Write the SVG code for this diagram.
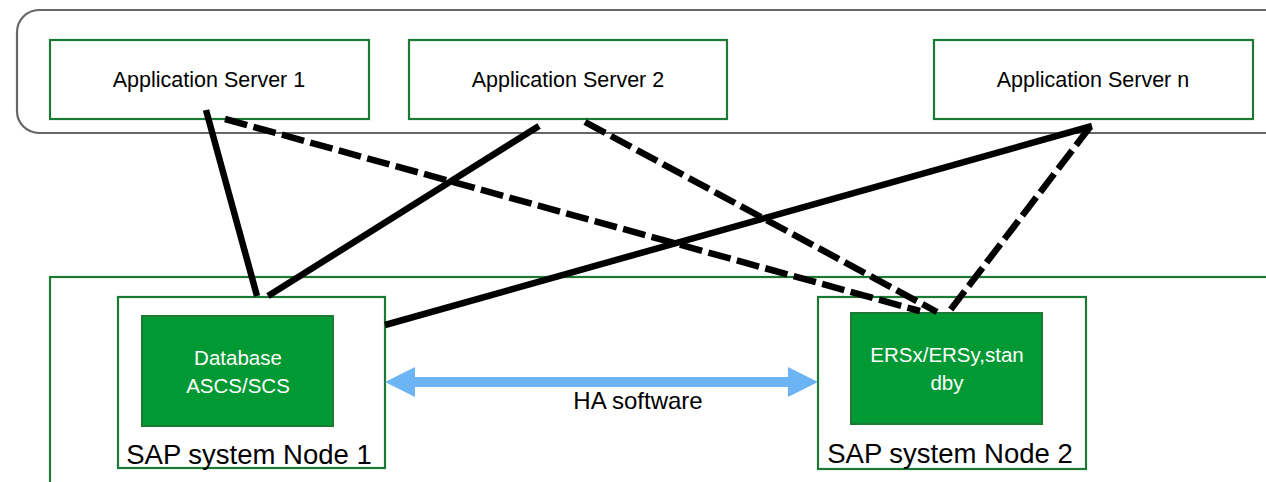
<svg xmlns="http://www.w3.org/2000/svg" width="1266" height="482" viewBox="0 0 1266 482">
<style>
.box{fill:#ffffff;stroke:#1b7a33;stroke-width:2.2}
.inner{fill:#009933;stroke:#1b7a33;stroke-width:2}
.lbl{font-family:"Liberation Sans",Arial,sans-serif;fill:#000;text-anchor:middle}
.wl{font-family:"Liberation Sans",Arial,sans-serif;fill:#fff;text-anchor:middle;font-size:20.5px}
.solid{stroke:#000;stroke-width:6.5;fill:none}
.dash{stroke:#000;stroke-width:6.5;fill:none;stroke-dasharray:23 6.5}
</style>
<rect width="1266" height="482" fill="#ffffff"/>
<g id="app-tier">
<rect x="17" y="10" width="1280" height="123" rx="22" ry="22" fill="#ffffff" stroke="#666666" stroke-width="2.2"/>
</g>
<g id="cluster">
<rect x="50" y="277" width="1240" height="230" fill="#ffffff" stroke="#1b7a33" stroke-width="2.2"/>
</g>
<g id="app-server-1">
<rect class="box" x="50" y="40" width="319" height="79"/>
<text class="lbl" x="209" y="87" font-size="21.5">Application Server 1</text>
</g>
<g id="app-server-2">
<rect class="box" x="409" y="40" width="318" height="79"/>
<text class="lbl" x="568" y="87" font-size="21.5">Application Server 2</text>
</g>
<g id="app-server-n">
<rect class="box" x="934" y="40" width="319" height="79"/>
<text class="lbl" x="1093" y="87" font-size="21.5">Application Server n</text>
</g>
<g id="node-1">
<rect class="box" x="118" y="297" width="267" height="171"/>
<rect class="inner" x="142" y="316" width="191" height="110"/>
<text class="wl" x="238" y="365">Database</text>
<text class="wl" x="238" y="393">ASCS/SCS</text>
<text class="lbl" x="249" y="464" font-size="27.5">SAP system Node 1</text>
</g>
<g id="node-2">
<rect class="box" x="818" y="297" width="268" height="172"/>
<rect class="inner" x="851" y="313" width="191" height="111"/>
<text class="wl" x="947" y="362">ERSx/ERSy,stan</text>
<text class="wl" x="947" y="390">dby</text>
<text class="lbl" x="950" y="463" font-size="27.5">SAP system Node 2</text>
</g>
<g id="connectors">
<line class="solid" x1="206" y1="110" x2="257" y2="296"/>
<line class="solid" x1="539" y1="126" x2="268" y2="296"/>
<line class="solid" x1="1092" y1="126" x2="385" y2="325"/>
<line class="dash" x1="225" y1="119" x2="920" y2="311"/>
<line class="dash" x1="585" y1="122" x2="937" y2="312"/>
<line class="dash" x1="1090" y1="127" x2="948" y2="313"/>
<path d="M385,382 L415,367 L415,377 L788,377 L788,367 L818,382 L788,397 L788,387 L415,387 L415,397 Z" fill="#6cb4f4"/>
<text class="lbl" x="638" y="409" font-size="24">HA software</text>
</g>
</svg>
